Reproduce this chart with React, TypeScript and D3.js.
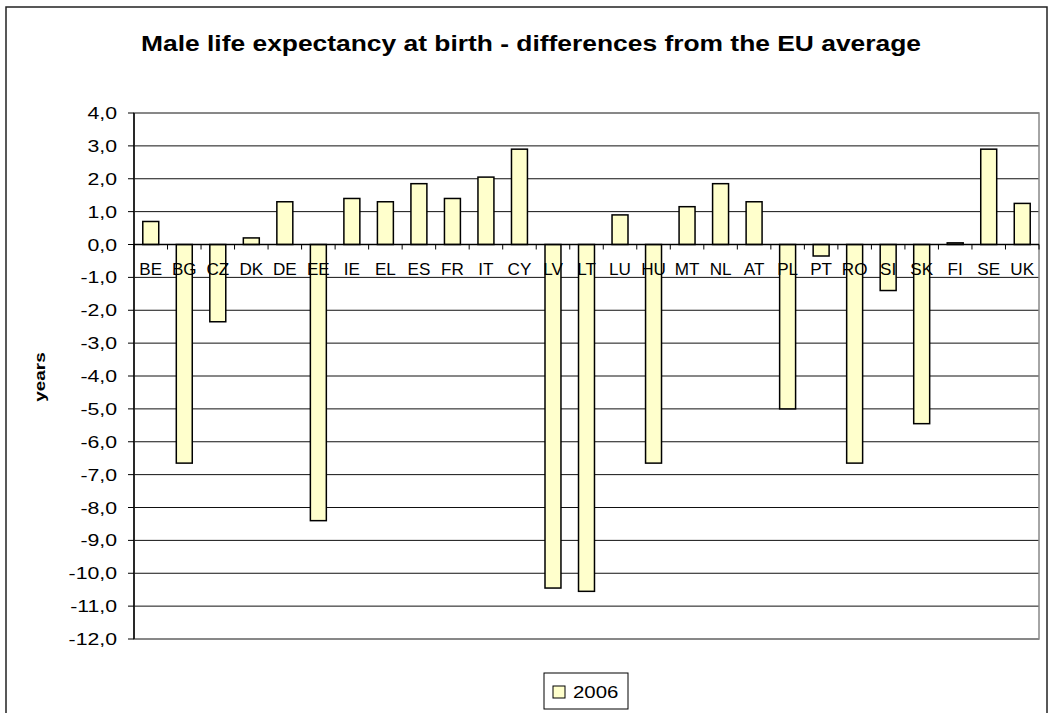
import React from "react";
import * as d3 from "d3";

const categories = ["BE","BG","CZ","DK","DE","EE","IE","EL","ES","FR","IT","CY","LV","LT","LU","HU","MT","NL","AT","PL","PT","RO","SI","SK","FI","SE","UK"];
const values2006 = [0.7,-6.65,-2.35,0.2,1.3,-8.4,1.4,1.3,1.85,1.4,2.05,2.9,-10.45,-10.55,0.9,-6.65,1.15,1.85,1.3,-5.0,-0.35,-6.65,-1.4,-5.45,0.05,2.9,1.25];
const yTicks = [4,3,2,1,0,-1,-2,-3,-4,-5,-6,-7,-8,-9,-10,-11,-12];
const seriesName = "2006";
const title = "Male life expectancy at birth - differences from the EU average";
const yTitle = "years";

const W = 1048, H = 713;
const plot = { x0: 134, x1: 1039, y0: 113, y1: 639 };
const FONT = "'Liberation Sans', Arial, sans-serif";
const BAR_FILL = "#FFFFCC";

const fmt = (v: number) => d3.format(".1f")(v).replace(".", ",").replace("−", "-");

function SText({ x, y, sx, anchor, size, weight, rotate, children }: any) {
  const tr = `translate(${x},${y})` + (rotate ? ` rotate(${rotate})` : "") + ` scale(${sx},1)`;
  return (
    <text transform={tr} textAnchor={anchor} fontSize={size} fontWeight={weight || "normal"} fontFamily={FONT} fill="#000">
      {children}
    </text>
  );
}

export default function App() {
  const x = d3.scaleBand<string>().domain(categories).range([plot.x0, plot.x1])
    .paddingInner(1.1 / 2.1).paddingOuter(0.55 / 2.1);
  const step = x.step();
  const y = d3.scaleLinear().domain([-12, 4]).range([plot.y1, plot.y0]);
  const y0 = y(0);

  return (
    <svg width={W} height={H} style={{ position: "absolute", left: 0, top: 0 }}>
      <rect x={0} y={0} width={W} height={H} fill="#fff" />
      <rect x={6} y={7} width={1041} height={730} fill="#fff" stroke="#222" strokeWidth={1.5} />
      <SText x={531} y={51} sx={1.2} anchor="middle" size={22} weight="bold">{title}</SText>

      {/* gridlines */}
      {yTicks.map((t) => (
        <line key={"g" + t} x1={plot.x0} x2={plot.x1} y1={y(t)} y2={y(t)} stroke="#111" strokeWidth={1} />
      ))}
      {/* plot border */}
      <rect x={plot.x0} y={plot.y0} width={plot.x1 - plot.x0} height={plot.y1 - plot.y0} fill="none" stroke="#888" strokeWidth={1.5} />

      {/* bars */}
      {categories.map((c, i) => {
        const v = values2006[i];
        const top = Math.min(y(v), y0);
        const h = Math.abs(y(v) - y0);
        return <rect key={c} x={x(c)} y={top} width={x.bandwidth()} height={h} fill={BAR_FILL} stroke="#000" strokeWidth={1.5} />;
      })}

      {/* y axis */}
      <line x1={plot.x0} x2={plot.x0} y1={plot.y0} y2={plot.y1} stroke="#000" strokeWidth={1.5} />
      {yTicks.map((t) => (
        <g key={"t" + t}>
          <line x1={plot.x0 - 6} x2={plot.x0} y1={y(t)} y2={y(t)} stroke="#000" strokeWidth={1} />
          <SText x={117} y={y(t) + 6} sx={1.25} anchor="end" size={17}>{fmt(t)}</SText>
        </g>
      ))}

      {/* zero axis */}
      <line x1={plot.x0} x2={plot.x1} y1={y0} y2={y0} stroke="#000" strokeWidth={1.5} />
      {categories.map((c, i) => (
        <line key={"xt" + c} x1={plot.x0 + step * i} x2={plot.x0 + step * i} y1={y0} y2={y0 + 5} stroke="#000" strokeWidth={1} />
      ))}
      <line x1={plot.x1} x2={plot.x1} y1={y0} y2={y0 + 5} stroke="#000" strokeWidth={1} />
      {categories.map((c) => (
        <SText key={"l" + c} x={(x(c) as number) + x.bandwidth() / 2} y={y0 + 30.5} sx={1.07} anchor="middle" size={16}>{c}</SText>
      ))}

      <SText x={45} y={377} sx={1.22} anchor="middle" size={15.5} weight="bold" rotate={-90}>{yTitle}</SText>

      {/* legend */}
      <rect x={544} y={673} width={84} height={36} fill="#fff" stroke="#000" strokeWidth={1} />
      <rect x={553} y={686} width={12} height={12} fill={BAR_FILL} stroke="#000" strokeWidth={1} />
      <SText x={573} y={698} sx={1.2} anchor="start" size={17}>{seriesName}</SText>
    </svg>
  );
}
